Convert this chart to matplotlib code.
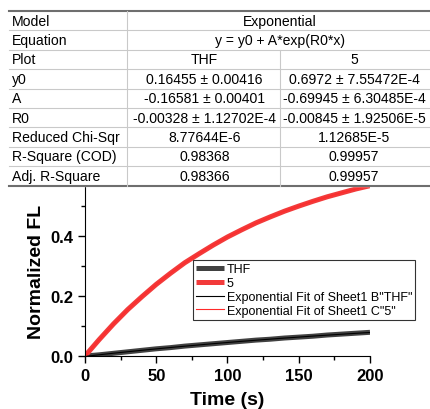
import numpy as np
import matplotlib.pyplot as plt
from matplotlib.ticker import MultipleLocator

# Measured normalized fluorescence vs time
time = [0, 10, 20, 30, 40, 50, 60, 70, 80, 90, 100,
        110, 120, 130, 140, 150, 160, 170, 180, 190, 200]
fl_thf = [0.000, 0.004, 0.009, 0.014, 0.019, 0.024, 0.028, 0.033, 0.037, 0.041, 0.045,
          0.049, 0.053, 0.056, 0.060, 0.063, 0.066, 0.070, 0.073, 0.076, 0.079]
fl_5 = [0.000, 0.055, 0.107, 0.155, 0.198, 0.239, 0.276, 0.311, 0.341, 0.370, 0.397,
        0.421, 0.444, 0.464, 0.483, 0.500, 0.516, 0.531, 0.544, 0.557, 0.568]

# Exponential fit results  y = y0 + A*exp(R0*x)
plots = ['THF', '5']
y0 = [0.16455, 0.6972]
A = [-0.16581, -0.69945]
R0 = [-0.00328, -0.00845]
fit_rows = [
    ('y0', '0.16455 ± 0.00416', '0.6972 ± 7.55472E-4'),
    ('A', '-0.16581 ± 0.00401', '-0.69945 ± 6.30485E-4'),
    ('R0', '-0.00328 ± 1.12702E-4', '-0.00845 ± 1.92506E-5'),
    ('Reduced Chi-Sqr', '8.77644E-6', '1.12685E-5'),
    ('R-Square (COD)', '0.98368', '0.99957'),
    ('Adj. R-Square', '0.98366', '0.99957'),
]

W, H = 431, 410
fig = plt.figure(figsize=(W / 100, H / 100), dpi=100)
plt.rcParams['font.family'] = ['Liberation Sans', 'DejaVu Sans']

ax = fig.add_axes([85 / W, (H - 357) / H, 285 / W, 170 / H])

grey = '#414141'
red = '#f23a3a'
ax.plot(time, fl_thf, color=grey, lw=3.6, label='THF', solid_capstyle='butt')
ax.plot(time, fl_5, color=red, lw=3.6, label='5', solid_capstyle='butt')

xf = np.linspace(0, 200, 400)
ax.plot(xf, y0[0] + A[0] * np.exp(R0[0] * xf), color='black', lw=0.8,
        label='Exponential Fit of Sheet1 B"THF"')
ax.plot(xf, y0[1] + A[1] * np.exp(R0[1] * xf), color='#ff2a2a', lw=0.8,
        label='Exponential Fit of Sheet1 C"5"')

ax.set_xlim(0, 200)
ax.set_ylim(0, 0.567)
ax.xaxis.set_major_locator(MultipleLocator(50))
ax.xaxis.set_minor_locator(MultipleLocator(25))
ax.yaxis.set_major_locator(MultipleLocator(0.2))
ax.yaxis.set_minor_locator(MultipleLocator(0.1))
ax.tick_params(which='major', length=5, width=1, direction='out', labelsize=12)
ax.tick_params(which='minor', length=3, width=1, direction='out')
for lab in ax.get_xticklabels() + ax.get_yticklabels():
    lab.set_fontweight('bold')
ax.spines['top'].set_visible(False)
ax.spines['right'].set_visible(False)
ax.set_xlabel('Time (s)', fontsize=14, fontweight='bold', labelpad=6)
ax.set_ylabel('Normalized FL', fontsize=14, fontweight='bold', labelpad=4)

leg = ax.legend(loc='upper left', bbox_to_anchor=(108 / 285, 1 - 74 / 170),
                fontsize=9, frameon=True, fancybox=False, edgecolor='black',
                borderpad=0.25, labelspacing=0.15, handlelength=2.2, handletextpad=0.25,
                borderaxespad=0)
leg.get_frame().set_linewidth(0.8)

# Fit parameter table drawn over the top of the figure
tab = fig.add_axes([0, 0, 1, 1], zorder=5)
tab.set_xlim(0, W)
tab.set_ylim(H, 0)
tab.axis('off')
top, rh = 12, 19.4
n_rows = 3 + len(fit_rows)
bottom = top + rh * n_rows
tab.fill_between([0, W], top, bottom, color='white', zorder=0)

c1, c2, x0 = 127, 280, 9
for i in range(1, n_rows):
    yy = top + i * rh
    tab.plot([x0, W], [yy, yy], color='#c9c9c9', lw=0.8)
tab.plot([x0, W], [top, top], color='#6e6e6e', lw=1.5)
tab.plot([x0, W], [bottom, bottom], color='#6e6e6e', lw=1.5)
tab.plot([c1, c1], [top, bottom], color='#c9c9c9', lw=0.8)
tab.plot([c2, c2], [top + 2 * rh, bottom], color='#c9c9c9', lw=0.8)

fs = 10.1


def row_text(i, first, *cells):
    yc = top + (i + 0.5) * rh
    tab.text(x0 + 3, yc, first, fontsize=fs, va='center', ha='left')
    if len(cells) == 1:
        tab.text(280, yc, cells[0], fontsize=fs, va='center', ha='center')
    else:
        tab.text((c1 + c2) / 2 + 1, yc, cells[0], fontsize=fs, va='center', ha='center')
        tab.text(354, yc, cells[1], fontsize=fs, va='center', ha='center')


row_text(0, 'Model', 'Exponential')
row_text(1, 'Equation', 'y = y0 + A*exp(R0*x)')
row_text(2, 'Plot', *plots)
for k, r in enumerate(fit_rows):
    row_text(3 + k, *r)

fig.savefig('out.png', dpi=100)
